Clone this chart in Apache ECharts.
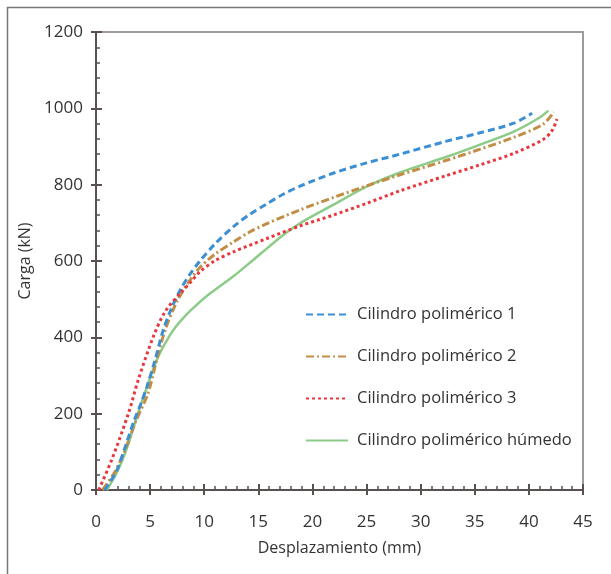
<!DOCTYPE html>
<html><head><meta charset="utf-8">
<script src="https://cdn.jsdelivr.net/npm/echarts@6/dist/echarts.min.js"></script>
<style>html,body{margin:0;padding:0;background:#fff}#c{width:611px;height:574px}</style>
</head><body><div id="c"></div>
<script>
const seriesNames = ['Cilindro polimérico 1','Cilindro polimérico 2','Cilindro polimérico 3','Cilindro polimérico húmedo'];
const xTicks = [0,5,10,15,20,25,30,35,40,45];
const yTicks = [0,200,400,600,800,1000,1200];
const cil1 = [[0.8,0],[1.9,50],[2.7,113],[3.5,180],[4.2,230],[4.7,270],[5.45,340],[6.2,418],[7.0,478],[7.8,525],[8.6,562],[9.6,600],[11.0,645],[12.7,690],[14.2,722],[15.8,750],[17.3,775],[18.85,796],[21.9,830],[25,857],[28.1,880],[32.4,914],[35.5,936],[38.6,961],[40.3,987]];
const cil2 = [[0.6,0],[1.8,50],[2.8,113],[3.6,175],[4.8,253],[5.6,340],[6.4,420],[7.5,495],[8.7,550],[9.6,583],[11,618],[12.7,650],[14.2,676],[15.8,698],[18.85,734],[21.9,766],[25,797],[28.1,826],[32.4,864],[35.5,893],[38.6,924],[41.3,958],[42.3,990]];
const cil3 = [[0.25,0],[1.45,79],[3.0,201],[3.9,288],[5.3,402],[6.4,468],[7.76,515],[8.7,543],[9.6,572],[11.0,601],[12.7,624],[15.8,659],[18.85,692],[21.9,720],[25,751],[28.1,784],[32.4,824],[35.5,852],[38.6,882],[41.3,918],[42.1,940],[42.6,972]];
const humedo = [[1.0,0],[2.0,50],[2.9,113],[3.7,185],[4.5,253],[5.6,340],[6.4,385],[7.3,425],[8.2,455],[9.3,485],[10.5,514],[12.7,560],[14.5,602],[15.8,633],[17.3,668],[18.85,699],[21.9,747],[25,795],[28.1,832],[32.4,873],[35.5,905],[38.6,939],[41.0,976],[41.8,994]];

const FONT = '"Open Sans", sans-serif';
const axisCol = '#5a5050';
const chart = echarts.init(document.getElementById('c'), null, {renderer:'canvas'});
const baseX = {type:'value', min:0, max:45, interval:5};
const baseY = {type:'value', min:0, max:1200, interval:200};
chart.setOption({
  animation:false,
  backgroundColor:'#fff',
  graphic:[{type:'rect', shape:{x:7.5,y:7.5,width:700,height:700}, style:{fill:'none', stroke:'#777', lineWidth:1.5}, silent:true}],
  grid:{left:96, right:28, top:32, bottom:84, show:true, borderColor:'#a09a9a', borderWidth:2, backgroundColor:'transparent'},
  legend:{orient:'vertical', left:300, top:301, itemWidth:42, itemHeight:14, itemGap:25,
    data:seriesNames, itemStyle:{opacity:0},
    textStyle:{fontFamily:FONT, fontSize:16.5, color:'#333', padding:[0,0,0,4]}},
  xAxis:[
    Object.assign({}, baseX, {
      name:'Desplazamiento (mm)', nameLocation:'middle', nameGap:50,
      nameTextStyle:{fontFamily:FONT, fontSize:16, color:'#333'},
      axisLine:{show:true, onZero:false, lineStyle:{color:axisCol, width:2}},
      axisTick:{show:true, inside:true, length:6, lineStyle:{color:axisCol, width:2}},
      minorTick:{show:true, splitNumber:5, length:4, lineStyle:{color:axisCol, width:1.5}},
      axisLabel:{margin:24, fontFamily:FONT, fontSize:17, color:'#333', formatter:v=>xTicks.includes(v)?String(v):''},
      splitLine:{show:false}}),
    Object.assign({}, baseX, {
      position:'bottom', axisLine:{show:false},
      axisTick:{show:true, inside:false, length:5, lineStyle:{color:axisCol, width:2}},
      axisLabel:{show:false}, splitLine:{show:false}})
  ],
  yAxis:[
    Object.assign({}, baseY, {
      name:'Carga (kN)', nameLocation:'middle', nameGap:43,
      nameTextStyle:{fontFamily:FONT, fontSize:16, color:'#333'},
      axisLine:{show:true, onZero:false, lineStyle:{color:axisCol, width:2}},
      axisTick:{show:true, inside:true, length:6, lineStyle:{color:axisCol, width:2}},
      minorTick:{show:true, splitNumber:5, length:4, lineStyle:{color:axisCol, width:1.5}},
      axisLabel:{margin:13, fontFamily:FONT, fontSize:17, color:'#333', formatter:v=>yTicks.includes(v)?String(v):''},
      splitLine:{show:false}}),
    Object.assign({}, baseY, {
      position:'left', axisLine:{show:false},
      axisTick:{show:true, inside:false, length:5, lineStyle:{color:axisCol, width:2}},
      axisLabel:{show:false}, splitLine:{show:false}})
  ],
  series:[
    {name:seriesNames[0], type:'line', data:cil1, smooth:0.3, symbol:'none', lineStyle:{color:'#3b8fd2', width:3, type:[7,4]}, itemStyle:{color:'#3b8fd2'}, z:4},
    {name:seriesNames[1], type:'line', data:cil2, smooth:0.3, symbol:'none', lineStyle:{color:'#c28d45', width:3, type:[8,3,2,3]}, itemStyle:{color:'#c28d45'}, z:3},
    {name:seriesNames[2], type:'line', data:cil3, smooth:0.3, symbol:'none', lineStyle:{color:'#e8383e', width:3, type:[3,3]}, itemStyle:{color:'#e8383e'}, z:5},
    {name:seriesNames[3], type:'line', data:humedo, smooth:0.3, symbol:'none', lineStyle:{color:'#8ccb88', width:2.5}, itemStyle:{color:'#8ccb88'}, z:2}
  ]
});
</script></body></html>
